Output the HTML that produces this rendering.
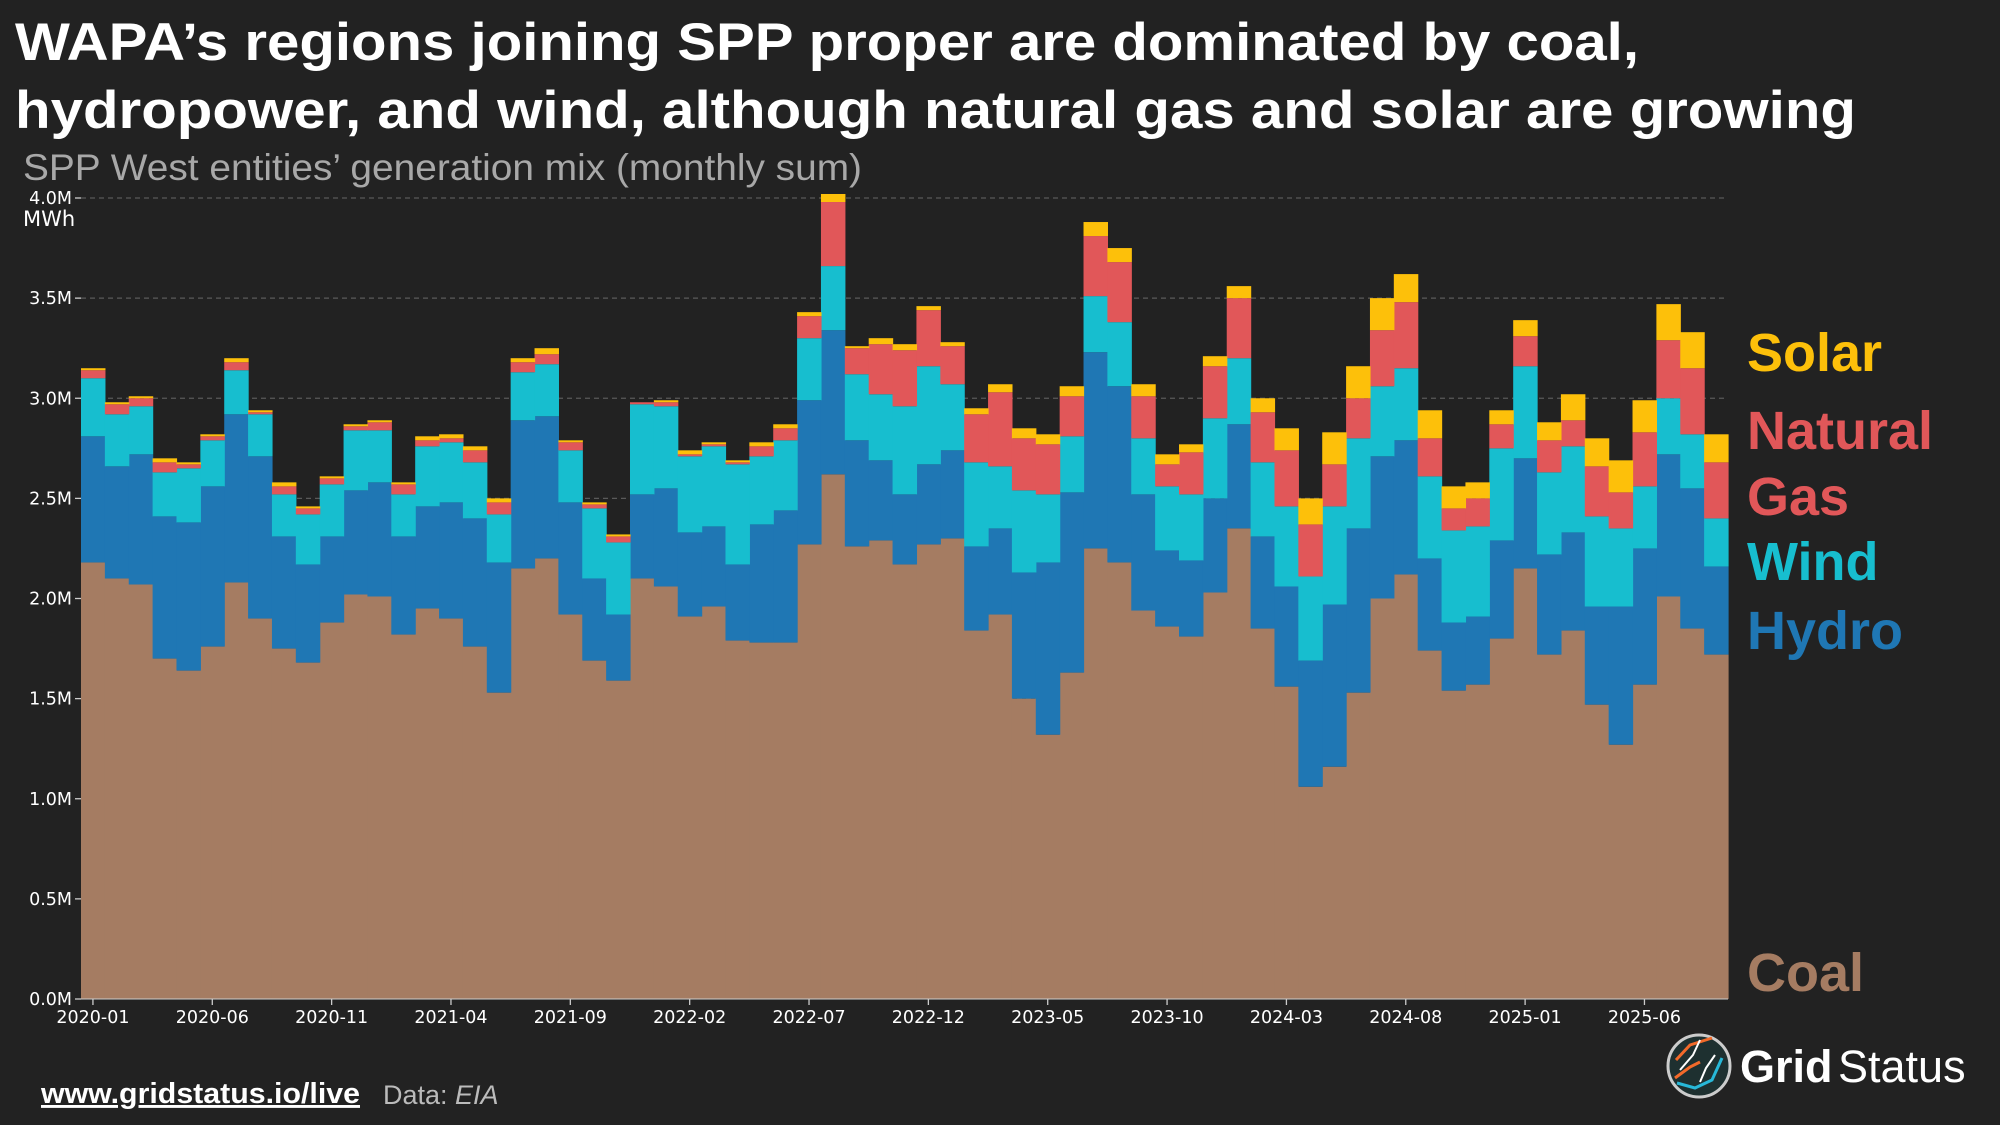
<!DOCTYPE html>
<html><head><meta charset="utf-8"><style>
html,body{margin:0;padding:0;background:#222222;}
svg{display:block;font-family:"Liberation Sans",sans-serif;}
</style></head><body>
<svg id="chart" width="2000" height="1125" viewBox="0 0 2000 1125" xmlns="http://www.w3.org/2000/svg">
<rect width="2000" height="1125" fill="#222222"/>
<text x="15" y="60" font-size="53" font-weight="bold" fill="#ffffff" textLength="1624" lengthAdjust="spacingAndGlyphs">WAPA’s regions joining SPP proper are dominated by coal,</text>
<text x="15" y="128" font-size="53" font-weight="bold" fill="#ffffff" textLength="1841" lengthAdjust="spacingAndGlyphs">hydropower, and wind, although natural gas and solar are growing</text>
<text x="23" y="180" font-size="37" fill="#a8a8a8" textLength="839" lengthAdjust="spacingAndGlyphs">SPP West entities’ generation mix (monthly sum)</text>
<g id="grid"></g>
<g id="bars"></g>
<g id="yaxis"></g>
<g id="xaxis"></g>
<text x="23" y="226" font-size="21" fill="#ffffff" font-family="DejaVu Sans, sans-serif">MWh</text>
<g font-size="54" font-weight="bold">
<text x="1747" y="371" fill="#fdc00a">Solar</text>
<text x="1747" y="449" fill="#e15759">Natural</text>
<text x="1747" y="515" fill="#e15759">Gas</text>
<text x="1747" y="580" fill="#17becf">Wind</text>
<text x="1747" y="649" fill="#1f77b4">Hydro</text>
<text x="1747" y="991" fill="#a57c62">Coal</text>
</g>
<text x="41" y="1103" font-size="29" font-weight="bold" fill="#ffffff" text-decoration="underline" textLength="319" lengthAdjust="spacingAndGlyphs">www.gridstatus.io/live</text>
<text x="383" y="1104" font-size="27" fill="#bbbbbb">Data: <tspan font-style="italic">EIA</tspan></text>
<g>
<circle cx="1699" cy="1066" r="31" fill="#1e3030" stroke="#cccccc" stroke-width="3"/>
<path d="M1676 1060 L1690 1045 L1712 1038 M1675 1078 L1690 1067 L1700 1062" stroke="#f26a2a" stroke-width="3" fill="none"/>
<path d="M1677 1083 L1695 1088 L1712 1080 L1722 1058" stroke="#27b8d8" stroke-width="3" fill="none"/>
<path d="M1700 1040 L1693 1055 L1680 1070 M1715 1055 L1706 1068 L1700 1082" stroke="#ffffff" stroke-width="2" fill="none"/>
<text x="1740" y="1082" font-size="45" font-weight="bold" fill="#ffffff">Grid</text>
<text x="1838" y="1082" font-size="45" fill="#ffffff">Status</text>
</g>
</svg>
<script>
const months = ["2020-01","2020-02","2020-03","2020-04","2020-05","2020-06","2020-07","2020-08","2020-09","2020-10","2020-11","2020-12","2021-01","2021-02","2021-03","2021-04","2021-05","2021-06","2021-07","2021-08","2021-09","2021-10","2021-11","2021-12","2022-01","2022-02","2022-03","2022-04","2022-05","2022-06","2022-07","2022-08","2022-09","2022-10","2022-11","2022-12","2023-01","2023-02","2023-03","2023-04","2023-05","2023-06","2023-07","2023-08","2023-09","2023-10","2023-11","2023-12","2024-01","2024-02","2024-03","2024-04","2024-05","2024-06","2024-07","2024-08","2024-09","2024-10","2024-11","2024-12","2025-01","2025-02","2025-03","2025-04","2025-05","2025-06","2025-07","2025-08","2025-09"];
const coal = [2.18,2.10,2.07,1.70,1.64,1.76,2.08,1.90,1.75,1.68,1.88,2.02,2.01,1.82,1.95,1.90,1.76,1.53,2.15,2.20,1.92,1.69,1.59,2.10,2.06,1.91,1.96,1.79,1.78,1.78,2.27,2.62,2.26,2.29,2.17,2.27,2.30,1.84,1.92,1.50,1.32,1.63,2.25,2.18,1.94,1.86,1.81,2.03,2.35,1.85,1.56,1.06,1.16,1.53,2.00,2.12,1.74,1.54,1.57,1.80,2.15,1.72,1.84,1.47,1.27,1.57,2.01,1.85,1.72];
const hydro = [0.63,0.56,0.65,0.71,0.74,0.80,0.84,0.81,0.56,0.49,0.43,0.52,0.57,0.49,0.51,0.58,0.64,0.65,0.74,0.71,0.56,0.41,0.33,0.42,0.49,0.42,0.40,0.38,0.59,0.66,0.72,0.72,0.53,0.40,0.35,0.40,0.44,0.42,0.43,0.63,0.86,0.90,0.98,0.88,0.58,0.38,0.38,0.47,0.52,0.46,0.50,0.63,0.81,0.82,0.71,0.67,0.46,0.34,0.34,0.49,0.55,0.50,0.49,0.49,0.69,0.68,0.71,0.70,0.44];
const wind = [0.29,0.26,0.24,0.22,0.27,0.23,0.22,0.21,0.21,0.25,0.26,0.30,0.26,0.21,0.30,0.30,0.28,0.24,0.24,0.26,0.26,0.35,0.36,0.45,0.41,0.38,0.40,0.50,0.34,0.35,0.31,0.32,0.33,0.33,0.44,0.49,0.33,0.42,0.31,0.41,0.34,0.28,0.28,0.32,0.28,0.32,0.33,0.40,0.33,0.37,0.40,0.42,0.49,0.45,0.35,0.36,0.41,0.46,0.45,0.46,0.46,0.41,0.43,0.45,0.39,0.31,0.28,0.27,0.24];
const gas = [0.04,0.05,0.04,0.05,0.02,0.02,0.04,0.01,0.04,0.03,0.03,0.02,0.04,0.05,0.03,0.02,0.06,0.06,0.05,0.05,0.04,0.02,0.03,0.01,0.02,0.01,0.01,0.01,0.05,0.06,0.11,0.32,0.13,0.25,0.28,0.28,0.19,0.24,0.37,0.26,0.25,0.20,0.30,0.30,0.21,0.11,0.21,0.26,0.30,0.25,0.28,0.26,0.21,0.20,0.28,0.33,0.19,0.11,0.14,0.12,0.15,0.16,0.13,0.25,0.18,0.27,0.29,0.33,0.28];
const solar = [0.01,0.01,0.01,0.02,0.01,0.01,0.02,0.01,0.02,0.01,0.01,0.01,0.01,0.01,0.02,0.02,0.02,0.02,0.02,0.03,0.01,0.01,0.01,0.00,0.01,0.02,0.01,0.01,0.02,0.02,0.02,0.04,0.01,0.03,0.03,0.02,0.02,0.03,0.04,0.05,0.05,0.05,0.07,0.07,0.06,0.05,0.04,0.05,0.06,0.07,0.11,0.13,0.16,0.16,0.16,0.14,0.14,0.11,0.08,0.07,0.08,0.09,0.13,0.14,0.16,0.16,0.18,0.18,0.14];
const yTicks = [0,0.5,1.0,1.5,2.0,2.5,3.0,3.5,4.0];
const yTickLabels = ["0.0M","0.5M","1.0M","1.5M","2.0M","2.5M","3.0M","3.5M","4.0M"];
const xTickEvery = 5;

const NS = "http://www.w3.org/2000/svg";
const X0 = 81, X1 = 1728, Y0 = 999, Y1 = 198, YMAX = 4.0;
const TICKFONT = "DejaVu Sans, sans-serif";
const bw = (X1 - X0) / months.length;
function xs(i){ return X0 + i * bw; }
function ys(v){ return Y0 - (v / YMAX) * (Y0 - Y1); }
function mk(tag, attrs, parent){ const e = document.createElementNS(NS, tag); for (const k in attrs) e.setAttribute(k, attrs[k]); parent.appendChild(e); return e; }

const grid = document.getElementById('grid');
const yaxis = document.getElementById('yaxis');
yTicks.forEach((t, k) => {
  const y = ys(t);
  if (t > 0) {
    const g = mk('line', {x1: X0, x2: X1, y1: y, y2: y, stroke: '#5a5a5a', 'stroke-width': 1.3, 'stroke-dasharray': '5,4'}, grid);
    
    
  }
  const tk = mk('line', {x1: X0 - 6, x2: X0, y1: y, y2: y, stroke: '#cccccc', 'stroke-width': 1.3}, yaxis);
  
  
  const tx = mk('text', {x: X0 - 9, y: y + 6, 'font-size': 17.5, fill: '#ffffff', 'text-anchor': 'end', 'font-family': TICKFONT}, yaxis);
  tx.textContent = yTickLabels[k];
  
  
});

const series = [
  {name: 'coal', vals: coal, color: '#a57c62'},
  {name: 'hydro', vals: hydro, color: '#1f77b4'},
  {name: 'wind', vals: wind, color: '#17becf'},
  {name: 'gas', vals: gas, color: '#e15759'},
  {name: 'solar', vals: solar, color: '#fdc00a'}
];
const bars = document.getElementById('bars');
const base = months.map(() => 0);
series.forEach(s => {
  months.forEach((m, i) => {
    const lo = base[i], hi = base[i] + s.vals[i];
    base[i] = hi;
    const r = mk('rect', {x: xs(i), y: ys(hi), width: bw + 0.6, height: Math.max(0, ys(lo) - ys(hi)), fill: s.color}, bars);
    
    
  });
});

const xaxis = document.getElementById('xaxis');
const ax = mk('line', {x1: X0, x2: X1, y1: Y0, y2: Y0, stroke: '#cccccc', 'stroke-width': 1}, xaxis);


months.forEach((m, i) => {
  if (i % xTickEvery !== 0) return;
  const cx = xs(i) + bw / 2;
  const tk = mk('line', {x1: cx, x2: cx, y1: Y0, y2: Y0 + 6, stroke: '#cccccc', 'stroke-width': 1.3}, xaxis);
  
  
  const tx = mk('text', {x: cx, y: Y0 + 24, 'font-size': 17.5, fill: '#ffffff', 'text-anchor': 'middle', 'font-family': TICKFONT}, xaxis);
  tx.textContent = m;
  
  
});
</script>
</body></html>
